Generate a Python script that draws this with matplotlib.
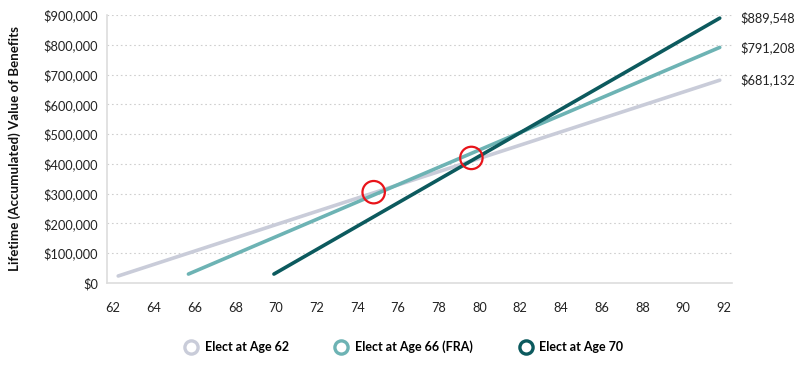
import matplotlib
matplotlib.use("Agg")
import matplotlib.pyplot as plt
from matplotlib.lines import Line2D
from matplotlib.ticker import FuncFormatter

plt.rcParams['font.family'] = ['Lato', 'DejaVu Sans']

series_names = ["Elect at Age 62", "Elect at Age 66 (FRA)", "Elect at Age 70"]
ages_62 = [62.25, 91.8]
values_62 = [23500, 681132]
ages_66 = [65.7, 91.8]
values_66 = [30000, 791208]
ages_70 = [69.9, 91.8]
values_70 = [30000, 889548]
end_labels = ["$681,132", "$791,208", "$889,548"]
circle_ages = [74.8, 79.6]
circle_values = [305000, 420000]
x_ticks = list(range(62, 93, 2))
y_ticks = list(range(0, 900001, 100000))

colors = ["#c9ccd9", "#6db3b4", "#0c5a5e"]

fig = plt.figure(figsize=(8.07, 3.66), dpi=100)
ax = fig.add_axes([0.1326, 0.2268, 0.7744, 0.7322])

data = [(ages_62, values_62), (ages_66, values_66), (ages_70, values_70)]
for (xs, ys), c in zip(data, colors):
    ax.plot(xs, ys, color=c, lw=2.6, solid_capstyle='round', zorder=3)

for (xs, ys), lab in zip(data, end_labels):
    ax.annotate(lab, xy=(1.0, ys[-1]), xycoords=('axes fraction', 'data'),
                xytext=(6, 0), textcoords='offset points', ha='left', va='center',
                fontsize=9.2, color='#222222')

ax.scatter(circle_ages, circle_values, s=260, facecolors='none', edgecolors='#e8141a',
           linewidths=1.6, zorder=5)

ax.set_xlim(61.7, 92.4)
ax.set_ylim(0, 900000)
ax.set_xticks(x_ticks)
ax.set_yticks(y_ticks)
ax.yaxis.set_major_formatter(FuncFormatter(lambda v, p: "${:,.0f}".format(v)))
ax.tick_params(axis='both', length=0, labelsize=9.2, colors='#222222')
ax.tick_params(axis='x', pad=14)
ax.tick_params(axis='y', pad=6.5)
ax.grid(axis='y', linestyle=(0, (1.5, 2.5)), color='#cfcfcf', lw=0.8)
ax.set_axisbelow(True)
for s in ['top', 'right']:
    ax.spines[s].set_visible(False)
for s in ['left', 'bottom']:
    ax.spines[s].set_color('#dddddd')
    ax.spines[s].set_linewidth(1.2)

ax.set_ylabel("Lifetime (Accumulated) Value of Benefits", fontsize=9.6, fontweight='bold',
              color='#111111')
ax.yaxis.set_label_coords(-0.137, 0.5)

handles = [Line2D([], [], linestyle='none', marker='o', markersize=9.5, markerfacecolor='white',
                  markeredgecolor=c, markeredgewidth=2.4) for c in colors]
fig.legend(handles, series_names, loc='center', bbox_to_anchor=(0.5, 0.052), ncol=3,
           frameon=False, prop={'weight': 'bold', 'size': 9},
           columnspacing=3.6, handlelength=1.2, handletextpad=0.5)

fig.savefig("out.png", dpi=100)
